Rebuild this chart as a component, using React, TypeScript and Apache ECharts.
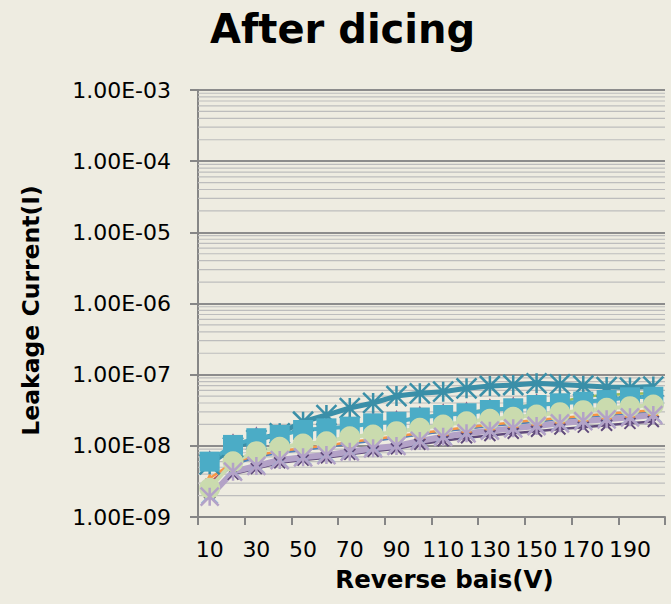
import React, { useEffect, useRef } from "react";
import * as echarts from "echarts";

const categories = ["10","20","30","40","50","60","70","80","90","100","110","120","130","140","150","160","170","180","190","200"];

const yTickDecades = [-9, -8, -7, -6, -5, -4];
const minorMultipliers = [2, 3, 4, 5, 6, 7, 8, 9];

const redSquares = [3.0e-9, 5.6e-9, 7.2e-9, 8.2e-9, 9.0e-9, 9.8e-9, 1.1e-8, 1.2e-8, 1.32e-8, 1.46e-8, 1.62e-8, 1.78e-8, 1.93e-8, 2.08e-8, 2.24e-8, 2.4e-8, 2.56e-8, 2.75e-8, 2.9e-8, 3.05e-8];
const blueDiamonds = [2.8e-9, 5.4e-9, 7.0e-9, 8.0e-9, 8.8e-9, 9.6e-9, 1.08e-8, 1.18e-8, 1.3e-8, 1.44e-8, 1.6e-8, 1.75e-8, 1.9e-8, 2.05e-8, 2.2e-8, 2.36e-8, 2.52e-8, 2.7e-8, 2.86e-8, 3.0e-8];
const purpleCross = [2.2e-9, 4.0e-9, 4.8e-9, 5.8e-9, 6.3e-9, 6.8e-9, 7.6e-9, 8.4e-9, 9.1e-9, 1.05e-8, 1.18e-8, 1.3e-8, 1.4e-8, 1.5e-8, 1.6e-8, 1.72e-8, 1.83e-8, 1.95e-8, 2.07e-8, 2.2e-8];
const orangeLow = [3.5e-9, 5.8e-9, 7.4e-9, 8.4e-9, 9.3e-9, 1.0e-8, 1.13e-8, 1.24e-8, 1.36e-8, 1.5e-8, 1.66e-8, 1.82e-8, 1.98e-8, 2.14e-8, 2.3e-8, 2.46e-8, 2.62e-8, 2.82e-8, 2.98e-8, 3.15e-8];
const lightBlueCross = [2.0e-9, 4.4e-9, 5.3e-9, 6.4e-9, 7.0e-9, 7.6e-9, 8.4e-9, 9.4e-9, 1.01e-8, 1.19e-8, 1.36e-8, 1.52e-8, 1.65e-8, 1.78e-8, 1.92e-8, 2.1e-8, 2.26e-8, 2.4e-8, 2.56e-8, 2.75e-8];
const pinkDiamonds = [5.2e-9, 9.0e-9, 1.12e-8, 1.25e-8, 1.46e-8, 1.55e-8, 1.64e-8, 1.82e-8, 1.92e-8, 2.2e-8, 2.38e-8, 2.52e-8, 2.8e-8, 2.96e-8, 3.3e-8, 3.48e-8, 3.66e-8, 3.86e-8, 4.22e-8, 4.3e-8];
const greenUpper = [5.8e-9, 1.0e-8, 1.25e-8, 1.4e-8, 1.65e-8, 1.75e-8, 1.85e-8, 2.05e-8, 2.2e-8, 2.5e-8, 2.75e-8, 2.95e-8, 3.25e-8, 3.45e-8, 3.85e-8, 4.1e-8, 4.9e-8, 5.2e-8, 5.4e-8, 5.5e-8];
const orangeUpper = [7.0e-9, 1.22e-8, 1.52e-8, 1.7e-8, 2.0e-8, 2.1e-8, 2.22e-8, 2.48e-8, 2.6e-8, 2.98e-8, 3.25e-8, 3.45e-8, 3.82e-8, 4.05e-8, 4.5e-8, 4.75e-8, 5.0e-8, 5.3e-8, 5.75e-8, 5.85e-8];
const purpleUpper = [7.4e-9, 1.28e-8, 1.6e-8, 1.77e-8, 2.08e-8, 2.2e-8, 2.32e-8, 2.58e-8, 2.72e-8, 3.1e-8, 3.38e-8, 3.58e-8, 3.98e-8, 4.2e-8, 4.68e-8, 4.95e-8, 5.2e-8, 5.5e-8, 5.9e-8, 6.0e-8];
const tealStars = [5.5e-9, 9.5e-9, 1.2e-8, 1.5e-8, 2.18e-8, 2.71e-8, 3.4e-8, 4.0e-8, 5.0e-8, 5.47e-8, 5.76e-8, 6.43e-8, 6.93e-8, 7.16e-8, 7.56e-8, 7.3e-8, 7.0e-8, 6.7e-8, 6.6e-8, 6.8e-8];
const aquaSquares = [6.0e-9, 1.03e-8, 1.28e-8, 1.42e-8, 1.67e-8, 1.76e-8, 1.86e-8, 2.07e-8, 2.18e-8, 2.5e-8, 2.71e-8, 2.87e-8, 3.19e-8, 3.37e-8, 3.75e-8, 3.96e-8, 4.17e-8, 4.4e-8, 4.81e-8, 4.9e-8];
const greenCircles = [2.53e-9, 5.98e-9, 8.27e-9, 9.53e-9, 1.06e-8, 1.14e-8, 1.34e-8, 1.42e-8, 1.58e-8, 1.76e-8, 1.96e-8, 2.18e-8, 2.36e-8, 2.52e-8, 2.71e-8, 2.92e-8, 3.12e-8, 3.37e-8, 3.55e-8, 3.75e-8];
const lavenderStars = [1.93e-9, 4.33e-9, 5.21e-9, 6.32e-9, 6.9e-9, 7.43e-9, 8.27e-9, 9.23e-9, 9.95e-9, 1.17e-8, 1.34e-8, 1.5e-8, 1.63e-8, 1.76e-8, 1.9e-8, 2.07e-8, 2.23e-8, 2.36e-8, 2.52e-8, 2.71e-8];

const STAR = "path://M0,0L20,20M20,0L0,20M10,0L10,20";
const CROSS = "path://M0,0L20,20M20,0L0,20";

const FONT = "DejaVu Sans";

function fmtExp(v: number): string {
  const [m, e] = v.toExponential(2).split("e");
  const n = parseInt(e, 10);
  return m + "E" + (n < 0 ? "-" : "+") + String(Math.abs(n)).padStart(2, "0");
}

function lineSeries(name: string, data: number[], color: string, symbol: string, size: number, lineWidth: number, stroke?: number) {
  return {
    name,
    type: "line",
    data,
    color,
    z: 2,
    symbol,
    symbolSize: size,
    showSymbol: true,
    showAllSymbol: true,
    lineStyle: { color, width: lineWidth },
    itemStyle: stroke ? { color, borderColor: color, borderWidth: stroke } : { color },
    emphasis: { disabled: true },
    silent: true,
  } as any;
}

export default function App() {
  const ref = useRef<HTMLDivElement>(null);
  useEffect(() => {
    if (!ref.current) return;
    const chart = echarts.init(ref.current, undefined, { renderer: "svg" });

    // minor log grid lines (2..9 x 10^n) drawn across the full plot width
    const minorData: any[] = [];
    yTickDecades.forEach((d) => {
      minorMultipliers.forEach((m) => {
        const v = m * Math.pow(10, d);
        minorData.push([0, v], [1, v], ["-", "-"]);
      });
    });

    const series = [
      {
        name: "minor",
        type: "line",
        xAxisIndex: 1,
        yAxisIndex: 0,
        data: minorData,
        z: 1,
        symbol: "none",
        showSymbol: false,
        connectNulls: false,
        silent: true,
        lineStyle: { color: "#BDBDBD", width: 1.2 },
        emphasis: { disabled: true },
      },
      lineSeries("s1", redSquares, "#C0504D", "rect", 9, 2.5),
      lineSeries("s2", blueDiamonds, "#4F81BD", "diamond", 10, 2.5),
      lineSeries("s3", purpleCross, "#604A7B", CROSS, 11, 2.5, 2),
      lineSeries("s4", orangeLow, "#F79646", "triangle", 11, 2.5),
      lineSeries("s5", lightBlueCross, "#95B3D7", CROSS, 16, 2.5, 2.5),
      lineSeries("s6", pinkDiamonds, "#E6B9B8", "diamond", 10, 0),
      lineSeries("s7", greenUpper, "#9BBB59", "rect", 6, 2.5),
      lineSeries("s8", orangeUpper, "#F79646", "triangle", 12, 0),
      lineSeries("s9", purpleUpper, "#8064A2", "triangle", 10, 0),
      lineSeries("s10", tealStars, "#3A8FA8", STAR, 20, 5, 2.5),
      lineSeries("s11", aquaSquares, "#4BACC6", "rect", 20, 4),
      lineSeries("s12", greenCircles, "#CADBAE", "circle", 21, 4),
      lineSeries("s13", lavenderStars, "#B3A2C7", STAR, 18, 6, 2.5),
    ];

    chart.setOption({
      animation: false,
      backgroundColor: "#EEECE1",
      title: {
        text: "After dicing",
        left: 205,
        top: 4,
        textStyle: { fontFamily: FONT, fontSize: 40, fontWeight: "bold", color: "#000" },
      },
      grid: { left: 198, right: 6, top: 90, bottom: 87, containLabel: false },
      xAxis: [
        {
          type: "category",
          data: categories,
          boundaryGap: true,
          name: "Reverse bais(V)",
          nameLocation: "middle",
          nameGap: 50,
          nameTextStyle: { fontFamily: FONT, fontSize: 24.5, fontWeight: "bold", color: "#000", padding: [0, 0, 0, 26] },
          axisLine: { show: true, lineStyle: { color: "#868686", width: 2 } },
          axisTick: { show: true, interval: 1, length: 8, lineStyle: { color: "#868686", width: 2 } },
          axisLabel: { interval: 1, margin: 21, fontFamily: FONT, fontSize: 22, color: "#000" },
          splitLine: { show: false },
        },
        {
          type: "value",
          min: 0,
          max: 1,
          show: false,
          splitLine: { show: false },
        },
      ],
      yAxis: {
        type: "log",
        logBase: 10,
        min: 1e-9,
        max: 1e-3,
        name: "Leakage Current(I)",
        nameLocation: "middle",
        nameGap: 155,
        nameRotate: 90,
        nameTextStyle: { fontFamily: FONT, fontSize: 23.5, fontWeight: "bold", color: "#000", padding: [0, 14, 0, 0] },
        axisLine: { show: true, lineStyle: { color: "#868686", width: 2 } },
        axisTick: { show: true, length: 8, lineStyle: { color: "#868686", width: 2 } },
        axisLabel: { margin: 27, fontFamily: FONT, fontSize: 22, color: "#000", formatter: fmtExp },
        splitLine: { show: true, lineStyle: { color: "#8C8C8C", width: 2 } },
      },
      series,
    });
    return () => chart.dispose();
  }, []);
  return <div ref={ref} style={{ position: "absolute", left: 0, top: 0, width: 671, height: 604 }} />;
}
